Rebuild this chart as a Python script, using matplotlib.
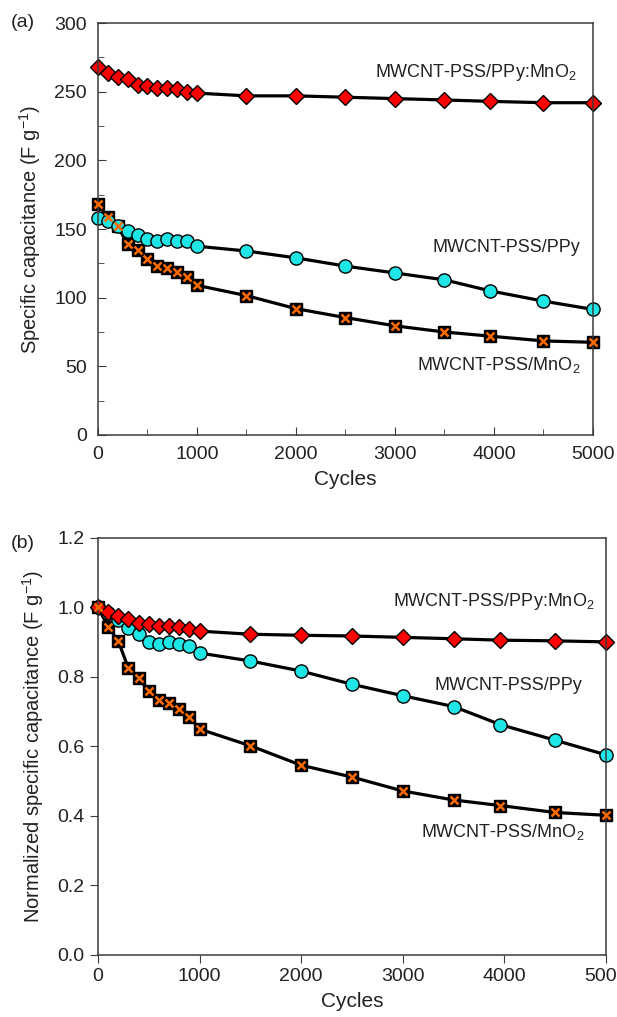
"""Cycling stability of MWCNT-PSS composites: (a) absolute, (b) normalized capacitance."""

import matplotlib

matplotlib.use("Agg")
import matplotlib.pyplot as plt
from matplotlib.ticker import MultipleLocator, FormatStrFormatter

plt.rcParams["font.family"] = ["Liberation Sans", "DejaVu Sans"]
plt.rcParams["mathtext.fontset"] = "custom"
plt.rcParams["mathtext.rm"] = "Liberation Sans"

cycles = [0, 100, 200, 300, 400, 500, 600, 700, 800, 900, 1000,
          1500, 2000, 2500, 3000, 3500, 3960, 4500, 5000]

# (a) specific capacitance, F/g
cap_ppy_mno2 = [268, 264, 261, 259, 255, 254, 253, 253, 252, 250, 249,
                247, 247, 246, 245, 244, 243, 242, 242]
cap_ppy = [158, 156, 152, 148.5, 146, 142.5, 141, 142.5, 141, 141, 137.5,
           134, 129, 123, 118, 113, 105, 97.5, 91.5]
cap_mno2 = [168, 159, 152, 139, 134.5, 128, 123, 121.5, 118.5, 115, 109,
            101.5, 92, 85.5, 79.5, 75, 72, 68.5, 67.5]

# (b) normalized capacitance
norm_ppy_mno2 = [1.0, 0.988, 0.976, 0.967, 0.954, 0.952, 0.947, 0.948, 0.944, 0.937, 0.932,
                 0.923, 0.920, 0.918, 0.914, 0.910, 0.906, 0.904, 0.901]
norm_ppy = [1.0, 0.985, 0.965, 0.94, 0.923, 0.902, 0.896, 0.900, 0.896, 0.890, 0.869,
            0.846, 0.817, 0.779, 0.746, 0.715, 0.663, 0.618, 0.576]
norm_mno2 = [1.0, 0.945, 0.903, 0.825, 0.796, 0.761, 0.735, 0.726, 0.708, 0.686, 0.650,
             0.602, 0.546, 0.512, 0.472, 0.446, 0.430, 0.410, 0.402]

label_ppy_mno2 = "MWCNT-PSS/PPy:MnO$_2$"
label_ppy = "MWCNT-PSS/PPy"
label_mno2 = "MWCNT-PSS/MnO$_2$"

AX_COLOR = "#3a3a3a"
TXT_COLOR = "#222222"


def draw_series(ax, y_d, y_c, y_s):
    kw = dict(color="black", linewidth=2.3, clip_on=False, zorder=2)
    # squares with orange cross
    ax.plot(cycles, y_s, marker="s", markersize=8, markerfacecolor="black",
            markeredgecolor="black", **kw)
    ax.plot(cycles, y_s, linestyle="none", marker="x", markersize=5.5,
            markeredgewidth=1.8, color="#ff6a00", clip_on=False, zorder=3)
    ax.plot(cycles, y_c, marker="o", markersize=9.5, markerfacecolor="#1ee6e6",
            markeredgecolor="black", markeredgewidth=1.0, **kw)
    ax.plot(cycles, y_d, marker="D", markersize=8.5, markerfacecolor="#ff0000",
            markeredgecolor="black", markeredgewidth=1.0, **kw)


def style_axes(ax):
    for sp in ax.spines.values():
        sp.set_color(AX_COLOR)
        sp.set_linewidth(1.1)
    ax.tick_params(colors=AX_COLOR, labelcolor=TXT_COLOR, labelsize=14)


fig = plt.figure(figsize=(6.17, 10.17), dpi=100)

# ---- (a)
ax1 = fig.add_axes([0.1588, 0.5723, 0.802, 0.405])
draw_series(ax1, cap_ppy_mno2, cap_ppy, cap_mno2)
ax1.set_xlim(0, 5000)
ax1.set_ylim(0, 300)
ax1.xaxis.set_major_locator(MultipleLocator(1000))
ax1.xaxis.set_minor_locator(MultipleLocator(500))
ax1.yaxis.set_major_locator(MultipleLocator(50))
ax1.yaxis.set_minor_locator(MultipleLocator(25))
style_axes(ax1)
ax1.tick_params(which="both", direction="in")
ax1.tick_params(which="major", length=6, pad=8)
ax1.tick_params(which="minor", length=4, color=AX_COLOR)
ax1.set_xlabel("Cycles", fontsize=15, color=TXT_COLOR, labelpad=5)
ax1.set_ylabel("Specific capacitance (F g$^{-1}$)", fontsize=14.5, color=TXT_COLOR, labelpad=8)
ax1.text(0.968, 0.881, label_ppy_mno2, transform=ax1.transAxes, ha="right", va="center",
         fontsize=13, color=TXT_COLOR)
ax1.text(0.975, 0.454, label_ppy, transform=ax1.transAxes, ha="right", va="center",
         fontsize=13, color=TXT_COLOR)
ax1.text(0.975, 0.17, label_mno2, transform=ax1.transAxes, ha="right", va="center",
         fontsize=13, color=TXT_COLOR)
fig.text(0.018, 0.978, "(a)", fontsize=14, color=TXT_COLOR, va="center")

# ---- (b)
ax2 = fig.add_axes([0.1588, 0.061, 0.8233, 0.41])
draw_series(ax2, norm_ppy_mno2, norm_ppy, norm_mno2)
ax2.set_xlim(0, 5000)
ax2.set_ylim(0, 1.2)
ax2.xaxis.set_major_locator(MultipleLocator(1000))
ax2.yaxis.set_major_locator(MultipleLocator(0.2))
ax2.yaxis.set_major_formatter(FormatStrFormatter("%.1f"))
style_axes(ax2)
ax2.tick_params(which="major", direction="out", length=6)
ax2.set_xlabel("Cycles", fontsize=15, color=TXT_COLOR, labelpad=5)
ax2.set_ylabel("Normalized specific capacitance (F g$^{-1}$)", fontsize=14.5,
               color=TXT_COLOR, labelpad=8)
ax2.text(0.978, 0.847, label_ppy_mno2, transform=ax2.transAxes, ha="right", va="center",
         fontsize=13, color=TXT_COLOR)
ax2.text(0.953, 0.647, label_ppy, transform=ax2.transAxes, ha="right", va="center",
         fontsize=13, color=TXT_COLOR)
ax2.text(0.957, 0.295, label_mno2, transform=ax2.transAxes, ha="right", va="center",
         fontsize=13, color=TXT_COLOR)
fig.text(0.018, 0.466, "(b)", fontsize=14, color=TXT_COLOR, va="center")

fig.savefig("out.png", dpi=100)
plt.close(fig)
